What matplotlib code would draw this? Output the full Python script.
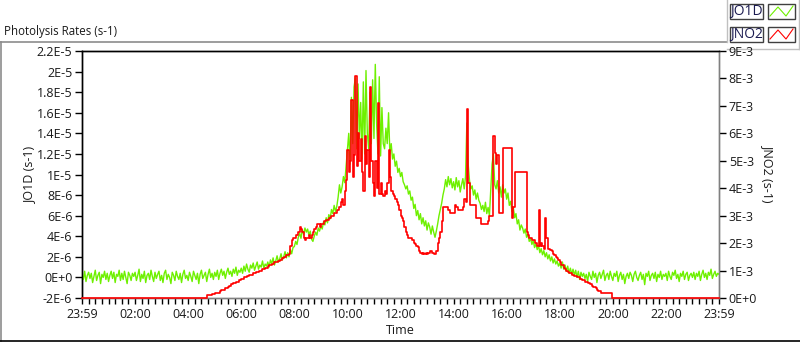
import numpy as np
import matplotlib
matplotlib.use("Agg")
import matplotlib.pyplot as plt
from matplotlib.lines import Line2D
from matplotlib.patches import Rectangle

# time grid in hours from 23:59 (start) to 23:59 (end), 3 minute steps
hours = np.linspace(0, 24, 481)

# JO1D in units of 1E-6 s-1, twenty values per hour
jo1d_e6 = [
    0.3, -0.2, 0.6, -0.4, 0.2, 0.5, -0.1, 0.4, -0.5, 0.1, 0.7, -0.3, 0.2, 0.5, -0.6, 0.3, 0.0, 0.6, -0.2, 0.4,    # 00
    -0.4, 0.2, 0.6, -0.1, 0.5, -0.5, 0.3, 0.1, 0.7, -0.3, 0.4, -0.2, 0.6, 0.0, -0.6, 0.5, 0.2, -0.3, 0.4, 0.1,    # 01
    0.5, -0.3, 0.2, 0.8, -0.4, 0.3, -0.1, 0.6, -0.5, 0.2, 0.4, -0.2, 0.7, 0.1, -0.4, 0.5, -0.1, 0.3, 0.6, -0.3,    # 02
    0.2, -0.5, 0.4, 0.7, -0.2, 0.3, 0.0, -0.6, 0.5, 0.2, -0.3, 0.6, 0.1, -0.2, 0.4, -0.5, 0.3, 0.7, -0.1, 0.2,    # 03
    -0.3, 0.5, 0.1, -0.4, 0.6, 0.2, -0.2, 0.4, -0.6, 0.3, 0.7, -0.1, 0.2, 0.5, -0.4, 0.3, 0.8, 0.0, 0.4, -0.2,    # 04
    0.5, 0.1, 0.7, -0.2, 0.4, 0.8, 0.2, 0.6, -0.1, 0.5, 0.9, 0.3, 0.6, 0.1, 0.8, 0.4, 1.0, 0.2, 0.7, 0.5,         # 05
    0.9, 0.4, 1.1, 0.6, 1.3, 0.8, 0.5, 1.2, 0.9, 1.4, 0.7, 1.1, 1.5, 0.8, 1.2, 1.0, 1.6, 0.9, 1.3, 1.1,           # 06
    1.5, 1.0, 1.7, 1.3, 1.9, 1.2, 1.6, 2.1, 1.5, 1.8, 2.3, 1.7, 2.0, 2.5, 1.9, 2.4, 2.0, 2.7, 2.3, 2.9,           # 07
    3.0, 3.5, 3.2, 3.9, 4.3, 3.8, 4.6, 4.2, 4.8, 4.4, 4.7, 4.1, 4.5, 3.7, 3.5, 4.0, 4.4, 4.1, 4.8, 4.5,           # 08
    5.0, 4.7, 5.4, 5.1, 5.8, 5.3, 6.1, 5.7, 6.6, 6.2, 7.0, 6.4, 6.9, 7.8, 9.0, 8.2, 8.8, 9.8, 9.2, 10.8,          # 09
    12.5, 14.0, 11.0, 17.5, 13.0, 18.5, 19.4, 12.5, 18.8, 13.5, 17.0, 11.5, 19.0, 12.0, 20.1, 14.0, 12.5, 18.0, 13.0, 19.2,  # 10
    13.5, 20.7, 15.0, 12.0, 19.5, 11.8, 16.5, 13.0, 12.5, 14.5, 13.0, 16.0, 12.0, 13.0, 11.5, 12.0, 10.8, 11.3, 10.2, 10.6,  # 11
    9.8, 10.2, 9.3, 9.0, 8.6, 8.9, 8.1, 8.4, 7.5, 7.8, 6.7, 7.1, 6.0, 6.5, 5.6, 6.2, 5.2, 5.8, 5.0, 5.5,         # 12
    4.6, 5.3, 4.9, 4.2, 5.0, 4.4, 3.9, 4.5, 5.2, 6.0, 6.6, 7.2, 8.0, 8.6, 9.5, 8.8, 9.8, 9.0, 9.6, 8.7,           # 13
    9.3, 8.5, 9.7, 8.8, 9.4, 8.3, 9.0, 9.6, 8.6, 9.8, 15.0, 11.0, 9.4, 8.6, 8.9, 8.0, 8.5, 7.6, 8.2, 7.5,         # 14
    7.2, 6.6, 7.0, 6.4, 7.3, 6.2, 6.8, 6.0, 8.5, 11.0, 12.0, 9.0, 8.6, 9.4, 8.2, 8.8, 7.8, 9.0, 8.2, 8.6,         # 15
    7.6, 8.2, 7.0, 7.4, 6.4, 6.8, 5.8, 6.2, 5.2, 5.6, 4.6, 5.1, 4.8, 4.3, 4.7, 3.9, 4.2, 3.5, 3.8, 3.2,           # 16
    3.6, 2.9, 3.3, 2.7, 3.1, 2.4, 2.8, 2.2, 2.6, 2.0, 2.4, 1.8, 2.2, 1.6, 2.0, 1.4, 1.8, 1.3, 1.6, 1.1,           # 17
    1.4, 0.9, 1.5, 0.8, 1.2, 0.6, 1.1, 0.4, 0.9, 0.3, 0.8, 0.2, 0.7, 0.0, 0.6, -0.2, 0.5, 0.1, 0.4, -0.1,         # 18
    0.3, -0.4, 0.5, 0.1, -0.2, 0.6, 0.0, 0.4, -0.5, 0.2, 0.5, -0.1, 0.3, 0.7, -0.3, 0.2, 0.4, -0.2, 0.6, 0.1,     # 19
    -0.3, 0.4, 0.1, 0.6, -0.4, 0.2, 0.5, -0.2, 0.3, -0.6, 0.1, 0.4, -0.1, 0.5, 0.2, -0.4, 0.3, 0.6, 0.0, -0.3,    # 20
    0.2, 0.5, -0.2, 0.3, -0.7, 0.4, 0.1, 0.6, -0.3, 0.2, 0.4, -0.1, 0.5, -0.4, 0.3, 0.0, 0.6, -0.2, 0.3, 0.1,     # 21
    0.4, -0.3, 0.6, 0.1, -0.2, 0.5, 0.2, 0.7, -0.1, 0.3, -0.4, 0.4, 0.1, 0.6, -0.2, 0.3, 0.5, -0.3, 0.2, 0.4,     # 22
    0.0, 0.5, -0.2, 0.4, 0.1, 0.6, -0.3, 0.3, 0.7, 0.0, 0.4, -0.2, 0.5, 0.2, 0.8, -0.1, 0.3, 0.6, 0.1, 0.4,       # 23
    0.3,
]

# JNO2 in units of 1E-3 s-1, twenty values per hour
jno2_e3 = [
    0, 0, 0, 0, 0, 0, 0, 0, 0, 0, 0, 0, 0, 0, 0, 0, 0, 0, 0, 0,                                  # 00
    0, 0, 0, 0, 0, 0, 0, 0, 0, 0, 0, 0, 0, 0, 0, 0, 0, 0, 0, 0,                                  # 01
    0, 0, 0, 0, 0, 0, 0, 0, 0, 0, 0, 0, 0, 0, 0, 0, 0, 0, 0, 0,                                  # 02
    0, 0, 0, 0, 0, 0, 0, 0, 0, 0, 0, 0, 0, 0, 0, 0, 0, 0, 0, 0,                                  # 03
    0, 0, 0, 0, 0, 0, 0, 0, 0, 0, 0, 0, 0, 0, 0.1, 0.1, 0.1, 0.1, 0.15, 0.15,                    # 04
    0.2, 0.2, 0.2, 0.2, 0.25, 0.3, 0.3, 0.3, 0.35, 0.35, 0.4, 0.45, 0.5, 0.5, 0.55, 0.55, 0.6, 0.6, 0.65, 0.65,   # 05
    0.7, 0.7, 0.75, 0.75, 0.8, 0.8, 0.85, 0.85, 0.85, 0.9, 0.9, 0.95, 0.95, 1.0, 1.0, 1.0, 1.05, 1.05, 1.1, 1.1,  # 06
    1.15, 1.2, 1.2, 1.25, 1.25, 1.3, 1.3, 1.3, 1.35, 1.4, 1.4, 1.45, 1.5, 1.5, 1.55, 1.55, 1.6, 1.9, 2.1, 2.2,    # 07
    2.2, 2.3, 2.3, 2.4, 2.6, 2.5, 2.4, 2.2, 2.1, 2.2, 2.2, 2.3, 2.2, 2.3, 2.4, 2.5, 2.6, 2.7, 2.7, 2.6,           # 08
    2.7, 2.7, 2.8, 2.8, 2.85, 2.85, 2.9, 2.9, 3.0, 3.0, 3.1, 3.1, 3.2, 3.2, 3.3, 3.5, 3.6, 3.4, 3.9, 4.3,         # 09
    5.4, 4.6, 5.0, 7.2, 4.4, 5.2, 8.1, 4.8, 6.0, 5.0, 5.8, 4.6, 3.9, 5.9, 4.9, 5.4, 4.4, 7.7, 5.0, 4.2,           # 10
    3.7, 5.0, 4.0, 7.1, 3.8, 4.2, 3.8, 3.7, 3.9, 3.8, 4.2, 5.4, 4.4, 3.9, 3.8, 3.7, 3.6, 3.5, 3.4, 3.2,           # 11
    3.0, 2.9, 2.8, 2.6, 2.4, 2.3, 2.2, 2.2, 2.2, 2.1, 2.0, 1.95, 1.9, 1.85, 1.7, 1.65, 1.6, 1.65, 1.6, 1.65,      # 12
    1.6, 1.65, 1.7, 1.7, 1.65, 1.6, 1.6, 1.7, 2.0, 2.2, 2.4, 2.8, 3.3, 3.3, 3.3, 3.3, 3.2, 3.1, 3.1, 3.1,         # 13
    3.1, 3.4, 3.3, 3.2, 3.2, 3.2, 3.2, 3.3, 3.6, 3.5, 6.9, 4.2, 3.4, 3.4, 3.4, 3.4, 3.4, 2.9, 2.9, 2.9,           # 14
    2.9, 2.7, 2.7, 2.7, 2.7, 2.7, 2.8, 3.0, 3.0, 3.0, 5.9, 5.3, 4.9, 5.2, 3.1, 3.1, 3.1, 5.45, 5.45, 5.45,        # 15
    5.45, 5.45, 5.45, 5.45, 2.9, 3.3, 4.6, 4.6, 4.6, 4.6, 4.6, 4.6, 4.6, 4.6, 4.6, 2.4, 2.3, 2.2, 2.2, 2.1,       # 16
    2.1, 2.0, 2.0, 1.9, 3.2, 1.9, 2.0, 1.9, 1.8, 2.9, 2.2, 1.8, 1.8, 1.75, 1.7, 1.6, 1.55, 1.5, 1.45, 1.4,        # 17
    1.3, 1.2, 1.2, 1.1, 1.05, 1.0, 0.95, 0.9, 0.9, 0.85, 0.85, 0.8, 0.8, 0.75, 0.75, 0.7, 0.7, 0.65, 0.65, 0.6,   # 18
    0.6, 0.55, 0.55, 0.5, 0.45, 0.4, 0.4, 0.35, 0.3, 0.25, 0.25, 0.2, 0.2, 0.2, 0.2, 0.2, 0.2, 0.2, 0.2, 0,       # 19
    0, 0, 0, 0, 0, 0, 0, 0, 0, 0, 0, 0, 0, 0, 0, 0, 0, 0, 0, 0,                                  # 20
    0, 0, 0, 0, 0, 0, 0, 0, 0, 0, 0, 0, 0, 0, 0, 0, 0, 0, 0, 0,                                  # 21
    0, 0, 0, 0, 0, 0, 0, 0, 0, 0, 0, 0, 0, 0, 0, 0, 0, 0, 0, 0,                                  # 22
    0, 0, 0, 0, 0, 0, 0, 0, 0, 0, 0, 0, 0, 0, 0, 0, 0, 0, 0, 0,                                  # 23
    0,
]

left_ticks = np.arange(-2, 23, 2) * 1e-6
left_labels = ["-2E-6", "0E+0", "2E-6", "4E-6", "6E-6", "8E-6", "1E-5",
               "1.2E-5", "1.4E-5", "1.6E-5", "1.8E-5", "2E-5", "2.2E-5"]
right_ticks = np.arange(0, 10) * 1e-3
right_labels = ["0E+0"] + ["%dE-3" % i for i in range(1, 10)]
time_ticks = np.arange(0, 25, 2)
time_labels = ["23:59"] + ["%02d:00" % h for h in range(2, 24, 2)] + ["23:59"]

green = "#6ef000"
red = "#ff0000"
txt = "#1a1a1a"

plt.rcParams["font.family"] = ["Open Sans", "DejaVu Sans"]

W, H = 800, 342
fig = plt.figure(figsize=(W / 100, H / 100), dpi=100)


def fx(px):
    return px / W


def fy(py):
    return 1 - py / H


ax = fig.add_axes([fx(82), fy(298), fx(719) - fx(82), fy(51) - fy(298)])
ax2 = ax.twinx()

jo1d = np.array(jo1d_e6) * 1e-6
jno2 = np.array(jno2_e3) * 1e-3

ax.plot(hours, jo1d, color=green, lw=1.0, zorder=3)
ax2.plot(hours, jno2, color=red, lw=1.2, drawstyle="steps-post", zorder=3,
         clip_on=False)

ax.set_xlim(0, 24)
ax.set_ylim(-2e-6, 2.2e-5)
ax2.set_ylim(0, 9e-3)

ax.set_xticks(time_ticks)
ax.set_xticklabels(time_labels)
ax.set_xticks(np.arange(0, 24.01, 0.25), minor=True)
ax.set_yticks(left_ticks)
ax.set_yticklabels(left_labels)
ax2.set_yticks(right_ticks)
ax2.set_yticklabels(right_labels)

ax.tick_params(axis="x", which="both", direction="out", length=4, width=1,
               color="#000000", labelsize=9, labelcolor=txt, pad=3)
ax.tick_params(axis="y", direction="out", length=5, width=1,
               labelsize=9, labelcolor=txt, pad=2)
ax2.tick_params(axis="y", direction="out", length=5, width=1,
                labelsize=9, labelcolor=txt, pad=2)

for a in (ax, ax2):
    a.spines["left"].set_color("black")
    a.spines["top"].set_color("black")
    a.spines["bottom"].set_color("#808080")
    a.spines["right"].set_color("#808080")
    for s in a.spines.values():
        s.set_linewidth(1)

ax.set_zorder(1)
ax2.set_zorder(2)
ax.patch.set_facecolor("white")

fig.text(fx(30), fy(175), "JO1D (s-1)", rotation=90, ha="center", va="center",
         fontsize=9, color=txt)
fig.text(fx(768), fy(173), "JNO2 (s-1)", rotation=270, ha="center", va="center",
         fontsize=9, color=txt)
fig.text(fx(400), fy(330), "Time", ha="center", va="center", fontsize=9, color=txt)
fig.text(fx(4), fy(31), "Photolysis Rates (s-1)", ha="left", va="center",
         fontsize=8.3, color=txt)

# outer frame of the panel
frame = "#8c8c8c"
fig.add_artist(Line2D([fx(0), fx(727)], [fy(42), fy(42)], color=frame, lw=1.2))
fig.add_artist(Line2D([fx(0.5), fx(0.5)], [fy(42), fy(341)], color=frame, lw=1.2))
fig.add_artist(Line2D([fx(0), fx(800)], [fy(340.5), fy(340.5)], color="black", lw=1.2))

# legend box
fig.add_artist(Line2D([fx(727), fx(727)], [fy(0), fy(42)], color="#c0c0c0", lw=1))
fig.add_artist(Line2D([fx(727), fx(799)], [fy(49), fy(49)], color="#c0c0c0", lw=1))
fig.add_artist(Line2D([fx(799), fx(799)], [fy(0), fy(49)], color="#c0c0c0", lw=1))

names = ["JO1D", "JNO2"]
colors = [green, red]
for i, (name, c) in enumerate(zip(names, colors)):
    top = 4 + i * 23
    fig.add_artist(Rectangle((fx(730), fy(top + 15)), fx(763) - fx(730), fy(top) - fy(top + 15),
                             fill=False, edgecolor="#404040", lw=1, transform=fig.transFigure))
    fig.text(fx(746.5), fy(top + 7.5), name, ha="center", va="center",
             fontsize=10, color="#1a1a50")
    fig.add_artist(Rectangle((fx(768), fy(top + 15)), fx(795) - fx(768), fy(top) - fy(top + 15),
                             fill=False, edgecolor="#404040", lw=1, transform=fig.transFigure))
    fig.add_artist(Line2D([fx(770), fx(778), fx(786), fx(793)],
                          [fy(top + 12), fy(top + 3), fy(top + 12), fy(top + 2)],
                          color=c, lw=0.8))

fig.savefig("out.png", dpi=100)
